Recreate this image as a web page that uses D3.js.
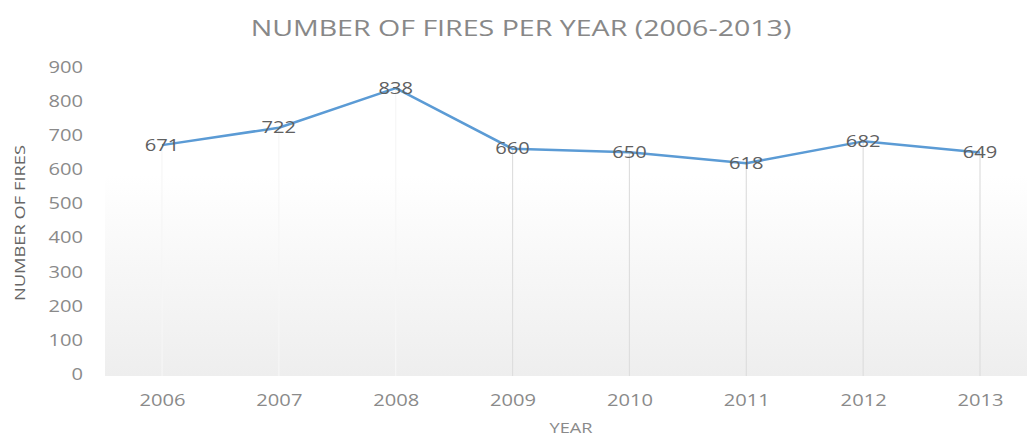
<!DOCTYPE html>
<html><head><meta charset="utf-8">
<script src="https://cdn.jsdelivr.net/npm/d3@7"></script>
<style>body{margin:0;background:#fff}svg{display:block}</style>
</head><body>
<svg id="c" width="1027" height="438"></svg>
<script>
const years = ["2006","2007","2008","2009","2010","2011","2012","2013"];
const fires = [671, 722, 838, 660, 650, 618, 682, 649];
const yTicks = [0,100,200,300,400,500,600,700,800,900];
const titleText = "NUMBER OF FIRES PER YEAR (2006-2013)";
const xTitle = "YEAR";
const yTitle = "NUMBER OF FIRES";

const W = 1027, H = 438;
const svg = d3.select("#c");
const font = "'Open Sans', 'Liberation Sans', sans-serif";
const SX = 1.3;

const x = d3.scalePoint().domain(years).range([162, 980]);
const y = d3.scaleLinear().domain([0,900]).range([374, 67]);

const defs = svg.append("defs");
const g = defs.append("linearGradient").attr("id","bg").attr("x1",0).attr("x2",0).attr("y1",0).attr("y2",1);
g.append("stop").attr("offset","0%").attr("stop-color","#ffffff");
g.append("stop").attr("offset","35%").attr("stop-color","#ffffff");
g.append("stop").attr("offset","100%").attr("stop-color","#eeeeee");

svg.append("rect").attr("x",105).attr("y",y(900)).attr("width",W-105).attr("height",y(0)+2-y(900)).attr("fill","url(#bg)");

// drop lines
svg.append("g").selectAll("line").data(years).join("line")
  .attr("x1",d=>x(d)).attr("x2",d=>x(d))
  .attr("y1",(d,i)=>y(fires[i])).attr("y2",y(0)+2)
  .attr("stroke",(d,i)=>i<3?"#f6f6f6":"#dedede").attr("stroke-width",1.2);

// y axis
const ya = svg.append("g").attr("transform","translate(83,0)")
  .call(d3.axisLeft(y).tickValues(yTicks).tickSize(0).tickPadding(0));
ya.select(".domain").remove();
ya.selectAll("text").attr("font-family",font).attr("font-size",15.5).attr("fill","#8a8a8a")
  .attr("dy","0.35em").attr("transform",`scale(${SX},1)`);

// x axis
const xa = svg.append("g").attr("transform","translate(0,401)")
  .call(d3.axisBottom(x).tickSize(0).tickPadding(0));
xa.select(".domain").remove();
xa.selectAll("text").attr("font-family",font).attr("font-size",15.5).attr("fill","#8a8a8a")
  .attr("dy","0.35em").attr("transform",`scale(${SX},1)`);

// line
const line = d3.line().x((d,i)=>x(years[i])).y(d=>y(d));
svg.append("path").datum(fires).attr("d",line).attr("fill","none")
  .attr("stroke","#5b9bd5").attr("stroke-width",2.5).attr("stroke-linejoin","round");

// labels
svg.append("g").selectAll("text").data(fires).join("text")
  .attr("transform",(d,i)=>`translate(${x(years[i])},${y(d)}) scale(${SX},1)`)
  .attr("dy","0.35em")
  .attr("text-anchor","middle").attr("font-family",font).attr("font-size",15.5)
  .attr("fill","#606060").text(d=>d);

// title
svg.append("text").attr("transform",`translate(521,36) scale(1.27,1)`).attr("text-anchor","middle")
  .attr("font-family",font).attr("font-size",22.5).attr("fill","#888888")
  .text(titleText);

svg.append("text").attr("transform",`translate(571,433) scale(${SX},1)`).attr("text-anchor","middle")
  .attr("font-family",font).attr("font-size",14).attr("fill","#8a8a8a").text(xTitle);

svg.append("text").attr("transform","translate(25,223) rotate(-90) scale(1.22,1)").attr("text-anchor","middle")
  .attr("font-family",font).attr("font-size",15).attr("fill","#666666").text(yTitle);
</script>
</body></html>
